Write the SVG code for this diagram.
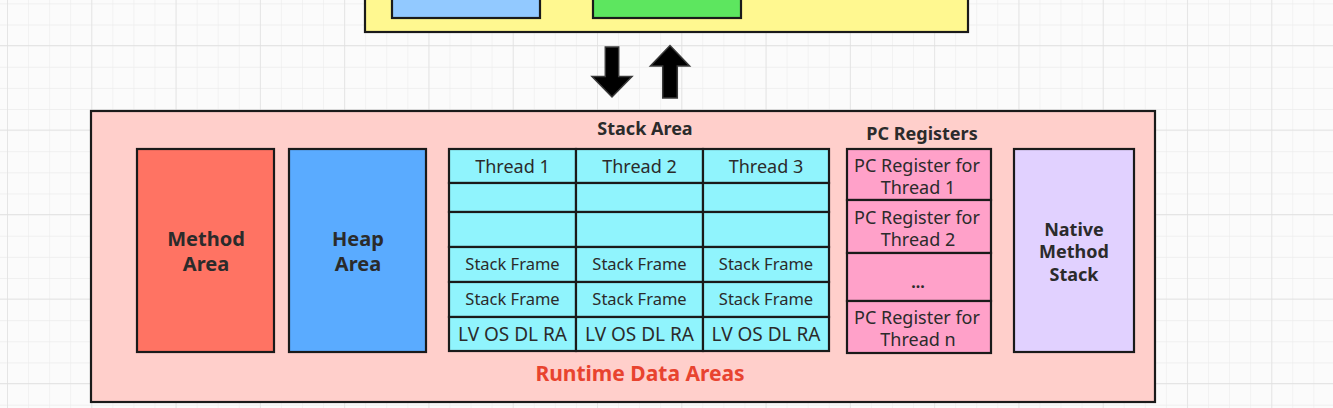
<svg xmlns="http://www.w3.org/2000/svg" width="1333" height="408" viewBox="0 0 1333 408">
<defs>
<pattern id="minor" patternUnits="userSpaceOnUse" x="7" y="3.4" width="21.07" height="21.12">
<path d="M0 0V21.12M0 0H21.07" fill="none" stroke="#ececec" stroke-width="1.2"/>
</pattern>
<pattern id="major" patternUnits="userSpaceOnUse" x="7" y="45" width="84.29" height="84.5">
<path d="M0 0V84.5M0 0H84.29" fill="none" stroke="#e0e0e0" stroke-width="1.4"/>
</pattern>
</defs>
<style>
.box{stroke:#1a1a1a;stroke-width:2.2}
.cell{fill:#90f4fd;stroke:#1a1a1a;stroke-width:2.2}
.pc{fill:#ffa1c9;stroke:#1a1a1a;stroke-width:2.2}
.t{font-family:"Noto Sans","Open Sans","DejaVu Sans",sans-serif;fill:#2b2b2b;text-anchor:middle}
.b{font-weight:bold}
.arrow{fill:#000;stroke:#3a3a3a;stroke-width:1.5;stroke-linejoin:miter}
</style>
<rect width="1333" height="408" fill="#fbfbfb"/>
<rect width="1333" height="408" fill="url(#minor)"/>
<rect width="1333" height="408" fill="url(#major)"/>

<g id="top-container">
<rect class="box" x="365" y="-20" width="603" height="52" fill="#fff890"/>
<rect class="box" x="392" y="-20" width="148" height="38" fill="#92c9ff"/>
<rect class="box" x="593" y="-20" width="148" height="38" fill="#5de65f"/>
</g>

<g id="connectors">
<path class="arrow" d="M605.3 47H618.7V76.5H632L612 97L592 76.5H605.3Z"/>
<path class="arrow" d="M662.7 98H677.3V66H689.6L670 45.5L650.4 66H662.7Z"/>
</g>

<g id="runtime-data-areas">
<rect class="box" x="91" y="111" width="1064" height="291" fill="#ffcfcb"/>
<text class="t b" x="640" y="381" font-size="21" style="fill:#e8432f">Runtime Data Areas</text>
</g>

<g id="method-area">
<rect class="box" x="137" y="149" width="137" height="203" fill="#ff7363"/>
<text class="t b" x="206" y="246" font-size="20">Method</text>
<text class="t b" x="206" y="271" font-size="20">Area</text>
</g>

<g id="heap-area">
<rect class="box" x="289" y="149" width="137" height="203" fill="#5aabff"/>
<text class="t b" x="358" y="246" font-size="20">Heap</text>
<text class="t b" x="358" y="271" font-size="20">Area</text>
</g>

<g id="stack-area">
<text class="t b" x="645" y="135" font-size="18">Stack Area</text>
<g id="thread-1">
<rect class="cell" x="449" y="149" width="127" height="34"/>
<rect class="cell" x="449" y="183" width="127" height="29"/>
<rect class="cell" x="449" y="212" width="127" height="35"/>
<rect class="cell" x="449" y="247" width="127" height="35"/>
<rect class="cell" x="449" y="282" width="127" height="35"/>
<rect class="cell" x="449" y="317" width="127" height="34"/>
<text class="t" x="512.5" y="173" font-size="18">Thread 1</text>
<text class="t" x="512.5" y="270" font-size="16.5">Stack Frame</text>
<text class="t" x="512.5" y="305" font-size="16.5">Stack Frame</text>
<text class="t" x="512.5" y="341" font-size="19">LV OS DL RA</text>
</g>
<g id="thread-2">
<rect class="cell" x="576" y="149" width="127" height="34"/>
<rect class="cell" x="576" y="183" width="127" height="29"/>
<rect class="cell" x="576" y="212" width="127" height="35"/>
<rect class="cell" x="576" y="247" width="127" height="35"/>
<rect class="cell" x="576" y="282" width="127" height="35"/>
<rect class="cell" x="576" y="317" width="127" height="34"/>
<text class="t" x="639.5" y="173" font-size="18">Thread 2</text>
<text class="t" x="639.5" y="270" font-size="16.5">Stack Frame</text>
<text class="t" x="639.5" y="305" font-size="16.5">Stack Frame</text>
<text class="t" x="639.5" y="341" font-size="19">LV OS DL RA</text>
</g>
<g id="thread-3">
<rect class="cell" x="703" y="149" width="126" height="34"/>
<rect class="cell" x="703" y="183" width="126" height="29"/>
<rect class="cell" x="703" y="212" width="126" height="35"/>
<rect class="cell" x="703" y="247" width="126" height="35"/>
<rect class="cell" x="703" y="282" width="126" height="35"/>
<rect class="cell" x="703" y="317" width="126" height="34"/>
<text class="t" x="766" y="173" font-size="18">Thread 3</text>
<text class="t" x="766" y="270" font-size="16.5">Stack Frame</text>
<text class="t" x="766" y="305" font-size="16.5">Stack Frame</text>
<text class="t" x="766" y="341" font-size="19">LV OS DL RA</text>
</g>
</g>

<g id="pc-registers">
<text class="t b" x="922" y="140" font-size="18">PC Registers</text>
<rect class="pc" x="847" y="149" width="144" height="51"/>
<rect class="pc" x="847" y="200" width="144" height="53"/>
<rect class="pc" x="847" y="253" width="144" height="48"/>
<rect class="pc" x="847" y="301" width="144" height="52"/>
<text class="t" x="917" y="172" font-size="18">PC Register for</text>
<text class="t" x="918" y="194" font-size="18">Thread 1</text>
<text class="t" x="917" y="224" font-size="18">PC Register for</text>
<text class="t" x="918" y="246" font-size="18">Thread 2</text>
<text class="t b" x="918" y="288" font-size="16">...</text>
<text class="t" x="917" y="324" font-size="18">PC Register for</text>
<text class="t" x="918" y="346" font-size="18">Thread n</text>
</g>

<g id="native-method-stack">
<rect class="box" x="1014" y="149" width="120" height="203" fill="#e1d1ff"/>
<text class="t b" x="1074" y="236" font-size="18">Native</text>
<text class="t b" x="1074" y="258" font-size="18">Method</text>
<text class="t b" x="1074" y="281" font-size="18">Stack</text>
</g>
</svg>
